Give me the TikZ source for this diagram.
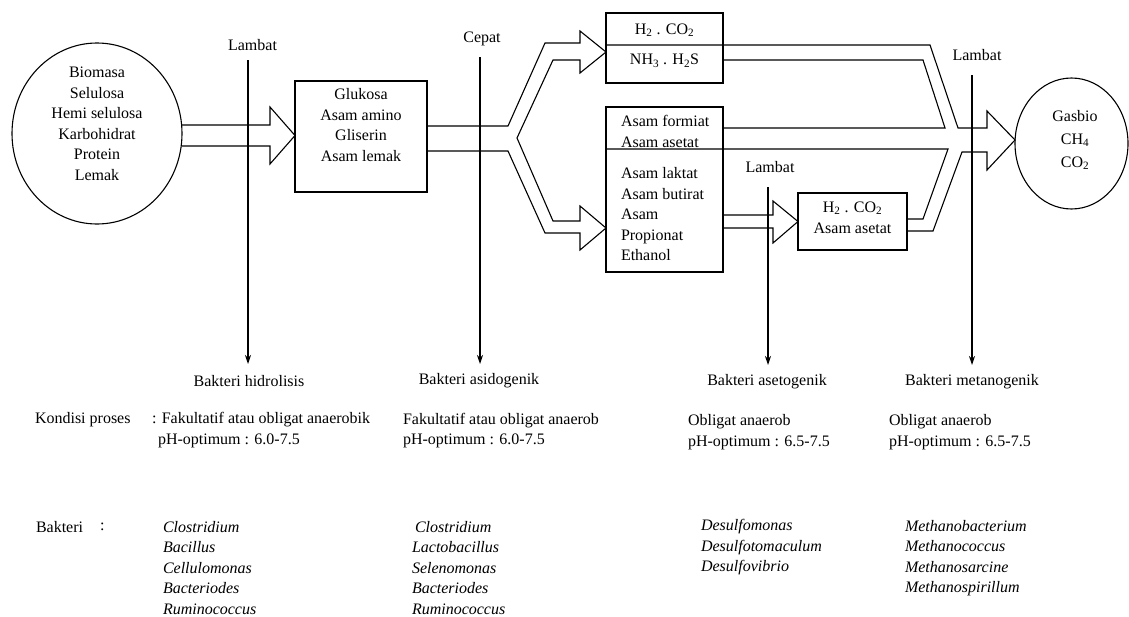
\documentclass[tikz,border=0pt]{standalone}
\usepackage{fontspec}
\setmainfont{Liberation Serif}
\usetikzlibrary{arrows.meta,calc,shapes.geometric}
\begin{document}
\begin{tikzpicture}[x=1pt,y=-1pt,
  every node/.style={inner sep=0pt, outer sep=0pt, font=\fontsize{16}{20.5}\selectfont},
  ln/.style={line width=1.1pt, line join=miter},
  boxx/.style={draw, line width=1.1pt, rectangle, inner sep=0pt},
  circ/.style={draw, line width=1.1pt, ellipse, inner sep=0pt},
  down/.style={line width=1.1pt, -{Stealth[length=9pt,width=6pt]}},
  ctext/.style={align=center},
  ltext/.style={align=left, anchor=west},
  itlist/.style={align=left, anchor=west, font=\fontsize{16}{20.5}\selectfont\itshape}
]
\useasboundingbox (0,0) rectangle (1129,616);

% ---------- main shapes ----------
\node[circ, minimum width=170pt, minimum height=181pt] (bio) at (97,133.5) {};
\node[ctext] (biot) at (97,124) {Biomasa\\Selulosa\\Hemi selulosa\\Karbohidrat\\Protein\\Lemak};

\node[boxx, minimum width=132pt, minimum height=111pt] (gl) at (361,136.5) {};
\node[ctext] (glt) at (361,125) {Glukosa\\Asam amino\\Gliserin\\Asam lemak};

\node[boxx, minimum width=117pt, minimum height=70pt] (tb) at (664.5,48) {};
\node (tb1) at (664.5,30) {H\textsubscript{2} . CO\textsubscript{2}};
\node (tb2) at (664.5,61) {NH\textsubscript{3} . H\textsubscript{2}S};

\node[boxx, minimum width=117pt, minimum height=165pt] (fb) at (664.5,189.5) {};
\node[ltext] (fb1) at (621,131.5) {Asam formiat\\Asam asetat};
\node[ltext] (fb2) at (621,214.5) {Asam laktat\\Asam butirat\\Asam\\Propionat\\Ethanol};

\node[boxx, minimum width=109pt, minimum height=57pt] (ab) at (852.5,221.5) {};
\node[ctext, font=\fontsize{16}{21}\selectfont] (abt) at (852.5,217.5) {H\textsubscript{2} . CO\textsubscript{2}\\Asam asetat};

\node[circ, minimum width=113pt, minimum height=131pt] (gas) at (1071.5,143.5) {};
\node[ctext, font=\fontsize{16}{23}\selectfont] (gast) at (1075,140) {Gasbio\\CH\textsubscript{4}\\CO\textsubscript{2}};

% ---------- hollow arrows ----------
\draw[ln] (181.5,125) -- (270,125) -- (270,107) -- (295,135.5) -- (270,164) -- (270,146) -- (181.5,146);

\draw[ln] (427,126) -- (508,126) -- (545,43) -- (580,43) -- (580,31) -- (606,52) -- (580,73)
  -- (580,60) -- (553,60) -- (517,138) -- (553,221) -- (580,221) -- (580,206) -- (606,228)
  -- (580,250) -- (580,233) -- (545,233) -- (508,151) -- (427,151);

% divider of top box continuing into the arrow to Gasbio
\draw[ln] (606,45) -- (930,45) -- (958,128) -- (987,128) -- (987,111) -- (1015,140)
  -- (987,170) -- (987,152) -- (962,152) -- (933,231) -- (907,231);
\draw[ln] (723,60) -- (923,60) -- (945,128) -- (723,128);
\draw[ln] (606,149) -- (948,149) -- (923,219) -- (907,219);

% arrow into acetate box
\draw[ln] (723,215) -- (773,215) -- (773,201) -- (798,221.5) -- (773,243) -- (773,228) -- (723,228);

% ---------- rate labels and vertical arrows ----------
\node (lam1) at (252.5,45) {Lambat};
\node (cep) at (482,39) {Cepat};
\node (lam2) at (770,167) {Lambat};
\node (lam3) at (977,55) {Lambat};

\node (hyd) at (249,381) {Bakteri hidrolisis};
\node (asi) at (479,381) {Bakteri asidogenik};
\node (ase) at (767,382) {Bakteri asetogenik};
\node (met) at (972,382) {Bakteri metanogenik};

\coordinate (v1t) at (248,60);  \coordinate (v1b) at (248,364);
\coordinate (v2t) at (480,57);  \coordinate (v2b) at (480,364);
\coordinate (v3t) at (768,187); \coordinate (v3b) at (768,365);
\coordinate (v4t) at (972,75);  \coordinate (v4b) at (972,365);
\draw[down] (v1t) -- (v1b);
\draw[down] (v2t) -- (v2b);
\draw[down] (v3t) -- (v3b);
\draw[down] (v4t) -- (v4b);

% ---------- process conditions ----------
\node[ltext] (kon) at (35,420) {Kondisi proses};
\node[ltext] (k1a) at (152,420) {: Fakultatif atau obligat anaerobik};
\node[ltext] (k1b) at (158,441) {pH-optimum : 6.0-7.5};
\node[ltext] (k2) at (403,430.5) {Fakultatif atau obligat anaerob\\pH-optimum : 6.0-7.5};
\node[ltext] (k3) at (688,432) {Obligat anaerob\\pH-optimum : 6.5-7.5};
\node[ltext] (k4) at (889,432) {Obligat anaerob\\pH-optimum : 6.5-7.5};

% ---------- bacteria ----------
\node[ltext] (bak) at (36,527) {Bakteri};
\node[ltext] (bakc) at (100,527) {:};
\node[itlist] (b1) at (163,568) {Clostridium\\Bacillus\\Cellulomonas\\Bacteriodes\\Ruminococcus};
\node[itlist] (b2) at (412,568) {\hspace*{3pt}Clostridium\\Lactobacillus\\Selenomonas\\Bacteriodes\\Ruminococcus};
\node[itlist] (b3) at (701,547.5) {Desulfomonas\\Desulfotomaculum\\Desulfovibrio};
\node[itlist] (b4) at (905,558) {Methanobacterium\\Methanococcus\\Methanosarcine\\Methanospirillum};
\end{tikzpicture}
\end{document}
